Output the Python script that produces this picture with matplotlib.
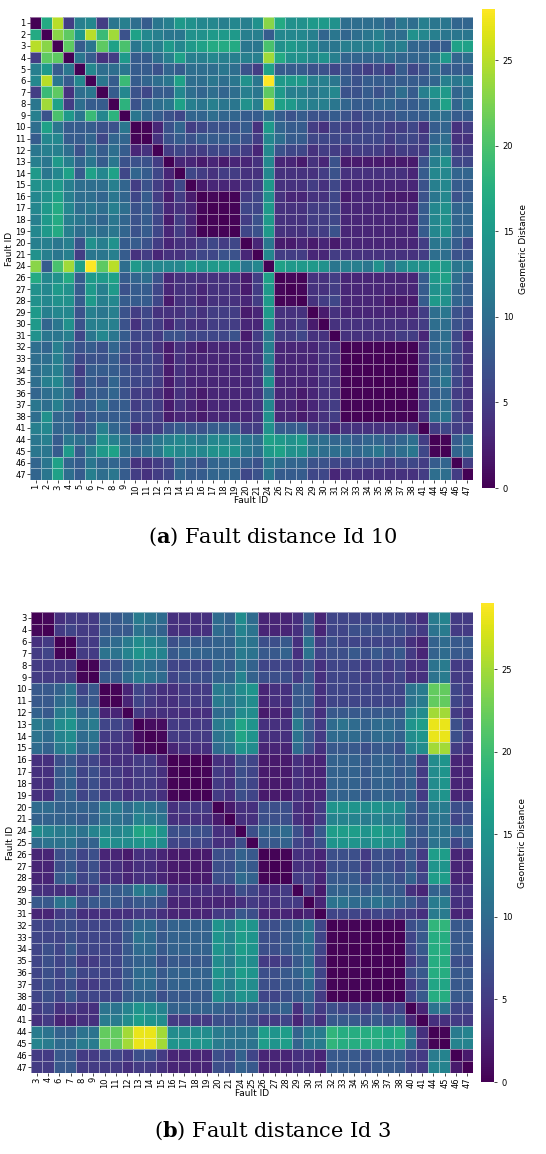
import numpy as np
import matplotlib
matplotlib.use("Agg")
import matplotlib.pyplot as plt
plt.rcParams['mathtext.fontset'] = 'dejavuserif'

labels_a = [1,2,3,4,5,6,7,8,9,10,11,12,13,14,15,16,17,18,19,20,21,24,26,27,28,29,30,31,32,33,34,35,36,37,38,41,44,45,46,47]
upper_a = [
 [17,25,5,12,13,5,11,12,10,8,11,12,15,14,13,13,12,13,12,14,23,17,14,14,15,15,14,10,10,10,10,9,11,10,12,11,11,9,9],
 [23,21,15,25,19,24,7,16,13,12,11,11,14,14,15,15,15,12,12,8,13,13,13,12,9,11,9,10,11,12,10,10,14,13,12,11,11,11],
 [21,8,11,21,16,20,11,13,12,15,13,15,16,17,17,17,11,11,20,14,15,14,13,11,11,12,12,12,13,11,12,9,9,8,8,16,16],
 [11,8,4,5,15,8,8,10,12,16,12,12,13,12,12,12,12,24,17,14,14,13,14,12,9,9,9,9,10,9,9,9,11,15,9,10],
 [13,10,10,11,8,8,7,9,8,10,10,10,11,10,7,5,16,8,8,8,7,7,6,7,6,5,6,5,8,6,7,10,8,8,8],
 [11,8,19,8,9,10,11,16,10,10,11,10,11,14,11,28,15,15,15,12,12,11,8,7,8,8,8,8,8,8,9,12,11,12],
 [8,13,7,6,8,8,13,10,9,10,9,10,12,11,21,15,12,12,11,12,13,7,7,8,7,8,10,8,12,14,15,9,10],
 [18,7,9,10,11,16,12,11,12,11,11,14,12,25,16,15,13,12,12,11,9,8,8,9,9,8,8,9,12,16,9,11],
 [11,9,8,7,6,9,9,10,9,9,8,8,10,8,7,8,7,7,8,7,6,7,7,7,8,8,8,10,10,8,8],
 [0.3,3,7,9,5,6,7,7,7,8,4,15,9,8,8,5,4,6,5,5,6,6,5,5,6,4,8,9,4,5],
 [4,7,8,7,8,8,8,8,7,5,13,10,8,8,6,6,6,6,6,6,6,5,6,6,5,9,10,4,4],
 [5,6,5,5,6,6,6,5,3,13,7,6,6,4,5,5,4,5,5,5,4,5,5,5,11,11,5,5],
 [3,3,2,3,2,3,3,4,13,3,3,2,4,3,7,2,2,2,2,2,2,2,7,12,14,6,6],
 [6,5,4,5,5,4,4,13,4,4,4,4,5,7,4,4,4,4,4,4,3,8,13,13,9,9],
 [2,3,3,3,4,5,15,4,4,4,5,4,6,3,3,3,3,3,3,3,7,12,13,8,8],
 [0.5,0.3,0.3,5,6,14,4,3,3,4,4,6,2,3,3,3,2,2,2,7,11,13,7,8],
 [0.3,0.3,6,6,15,4,4,4,5,5,6,3,3,3,3,3,3,3,8,13,14,9,9],
 [0.3,5,7,15,4,4,4,5,5,6,3,3,3,3,3,3,3,8,13,14,9,9],
 [6,7,15,4,4,4,5,5,7,3,3,3,3,3,3,3,8,13,14,9,9],
 [3,11,2,2,3,2,3,2,3,3,3,3,3,3,3,5,11,11,8,6],
 [13,5,5,5,3,3,5,4,4,4,4,4,4,4,5,10,10,7,7],
 [16,15,15,15,14,11,12,12,11,14,10,13,14,14,16,15,11,11],
 [0.5,0.3,4,4,5,3,3,3,3,3,3,3,8,15,16,10,8],
 [0.5,4,4,5,3,3,3,3,3,3,3,8,14,14,9,8],
 [4,5,6,3,3,3,3,2,2,2,8,15,14,9,8],
 [2,4,3,3,3,3,3,3,3,5,10,11,7,6],
 [4,4,4,4,4,4,4,4,5,10,10,7,6],
 [4,4,4,4,4,5,5,3,9,10,6,3],
 [0.3,0.3,0.3,0.3,0.3,0.3,4,9,10,6,4],
 [0.3,0.3,0.3,0.3,0.3,4,8,9,6,4],
 [0.3,0.3,0.3,0.3,4,9,10,6,4],
 [0.3,0.3,0.3,4,9,11,6,4],
 [0.3,0.3,4,8,9,5,4],
 [0.3,4,9,10,6,4],
 [4,10,11,6,4],
 [5,6,5,5],
 [0.3,8,10],
 [9,10],
 [5],
]

labels_b = [3,4,6,7,8,9,10,11,12,13,14,15,16,17,18,19,20,21,24,25,26,27,28,29,30,31,32,33,34,35,36,37,38,40,41,44,45,46,47]
upper_b = [
 [0.5,4,5,5,5,8,8,9,12,11,10,4,4,4,4,10,9,14,10,3,3,3,4,8,3,6,6,6,6,6,6,6,5,4,12,13,5,5],
 [5,6,5,5,8,8,8,11,10,9,4,4,4,4,10,9,13,11,3,3,3,4,8,3,6,6,7,7,7,7,7,6,5,11,12,5,5],
 [0.3,5,5,9,10,12,14,13,12,7,8,8,8,9,9,12,11,7,7,8,4,11,5,7,6,6,6,6,6,6,4,3,9,10,8,8],
 [5,5,11,11,13,15,14,13,8,9,9,9,9,9,12,11,8,8,9,4,11,6,7,7,8,7,8,7,8,5,3,9,10,8,8],
 [0.3,6,7,9,11,10,9,6,6,6,6,9,8,11,9,6,6,6,5,7,4,6,6,6,5,6,5,6,4,4,11,12,5,5],
 [8,8,10,12,11,10,6,7,7,7,9,9,13,9,7,7,7,5,8,4,6,6,6,5,6,5,6,4,4,11,12,5,5],
 [0.3,3,6,5,4,4,5,5,5,12,11,14,15,3,4,4,8,8,4,6,6,6,6,6,6,6,11,12,22,22,6,5],
 [3,6,5,4,4,5,5,5,12,11,13,14,3,4,4,8,8,4,6,6,6,6,6,6,6,11,12,22,22,6,5],
 [5,4,4,4,4,4,4,10,10,14,14,2,3,3,9,7,4,8,8,8,8,8,8,8,13,14,25,25,5,4],
 [1,1,5,5,5,5,12,13,17,15,4,4,4,12,8,5,10,11,10,9,10,10,9,15,16,28,28,7,5],
 [0.5,5,5,5,5,11,12,17,15,4,4,4,11,8,5,10,10,10,9,10,10,9,14,15,28,28,7,5],
 [3,4,4,4,10,11,15,14,3,3,3,10,7,4,8,8,8,7,8,8,7,13,14,25,25,5,4],
 [0.3,0.3,0.3,4,4,7,6,2,2,2,4,3,3,9,9,9,8,9,9,8,9,5,14,15,3,3],
 [0.3,0.3,5,4,7,6,2,2,2,4,3,3,9,9,9,8,9,9,8,9,5,14,15,3,3],
 [0.3,5,4,7,6,2,2,2,4,3,3,9,9,9,8,9,9,8,9,5,14,15,3,3],
 [5,4,7,6,2,2,2,4,3,3,9,9,9,8,9,9,8,9,5,14,15,3,3],
 [2,4,4,7,7,7,4,3,5,15,15,15,14,15,14,14,9,7,12,12,7,7],
 [4,4,7,7,7,4,3,5,13,13,13,12,13,12,12,8,7,11,11,6,7],
 [7,9,9,10,7,4,8,16,16,16,15,16,15,15,9,8,11,11,9,9],
 [8,8,9,6,5,7,15,15,15,14,15,14,14,8,7,11,11,6,8],
 [0.3,0.3,4,4,3,7,7,7,5,7,7,6,8,5,16,16,3,3],
 [0.3,4,4,3,7,7,7,5,7,7,6,8,5,15,15,3,3],
 [5,5,3,8,8,8,6,8,8,7,9,6,16,16,3,3],
 [5,2,9,9,9,8,9,8,8,4,3,9,9,4,4],
 [3,11,11,10,10,11,10,9,8,6,12,12,4,4],
 [6,6,6,5,6,6,5,5,4,12,12,3,3],
 [0.3,0.3,0.3,0.3,0.3,0.3,7,8,19,19,8,8],
 [0.3,0.3,0.3,0.3,0.3,6,8,18,18,8,8],
 [0.3,0.3,0.3,0.3,6,8,18,18,8,8],
 [0.3,0.3,0.3,5,7,18,18,7,7],
 [0.3,0.3,7,8,18,18,8,8],
 [0.3,5,7,17,17,8,8],
 [6,8,18,18,8,8],
 [3,11,11,6,6],
 [4,4,5,5],
 [0.3,12,13],
 [13,13],
 [2],
]

def build(upper, n):
    m = np.zeros((n, n))
    for i, row in enumerate(upper):
        for k, v in enumerate(row):
            j = i + 1 + k
            m[i, j] = v
            m[j, i] = v
    return m

fig = plt.figure(figsize=(5.46, 11.54), dpi=100)
W, H = 546, 1154

def panel(upper, labels, ax_box, cb_box, vmax, caption, cap_y):
    n = len(labels)
    M = build(upper, n)
    ax = fig.add_axes([ax_box[0]/W, 1-ax_box[3]/H, (ax_box[2]-ax_box[0])/W, (ax_box[3]-ax_box[1])/H])
    mesh = ax.pcolormesh(np.arange(n+1), np.arange(n+1), M, cmap='viridis', vmin=0, vmax=vmax,
                         edgecolors=(1, 1, 1, 0.45), linewidth=0.5)
    ax.set_xlim(0, n); ax.set_ylim(n, 0)
    ax.set_xticks(np.arange(n)+0.5)
    ax.set_xticklabels([str(l) for l in labels], rotation=90, fontsize=6)
    ax.set_yticks(np.arange(n)+0.5)
    ax.set_yticklabels([str(l) for l in labels], fontsize=6)
    ax.tick_params(length=2, width=0.5, pad=1)
    for s in ax.spines.values():
        s.set_visible(False)
    ax.set_xlabel('Fault ID', fontsize=6.5, labelpad=1)
    ax.set_ylabel('Fault ID', fontsize=6.5, labelpad=1)
    cax = fig.add_axes([cb_box[0]/W, 1-cb_box[3]/H, (cb_box[2]-cb_box[0])/W, (cb_box[3]-cb_box[1])/H])
    cb = fig.colorbar(mesh, cax=cax)
    cb.outline.set_visible(False)
    cb.set_ticks([0, 5, 10, 15, 20, 25])
    cb.ax.tick_params(labelsize=6, length=2, width=0.5)
    cb.set_label('Geometric Distance', fontsize=6.5)
    fig.text(0.5, 1-cap_y/H, caption, ha='center', va='center', fontsize=15, family='DejaVu Serif')

panel(upper_a, labels_a, (30, 17, 473, 480), (482, 9, 495, 488), 28, r'($\mathbf{a}$) Fault distance Id 10', 537)
panel(upper_b, labels_b, (31, 612, 473, 1073), (481, 603, 494, 1082), 29, r'($\mathbf{b}$) Fault distance Id 3', 1131)

fig.savefig('out.png', dpi=100)
